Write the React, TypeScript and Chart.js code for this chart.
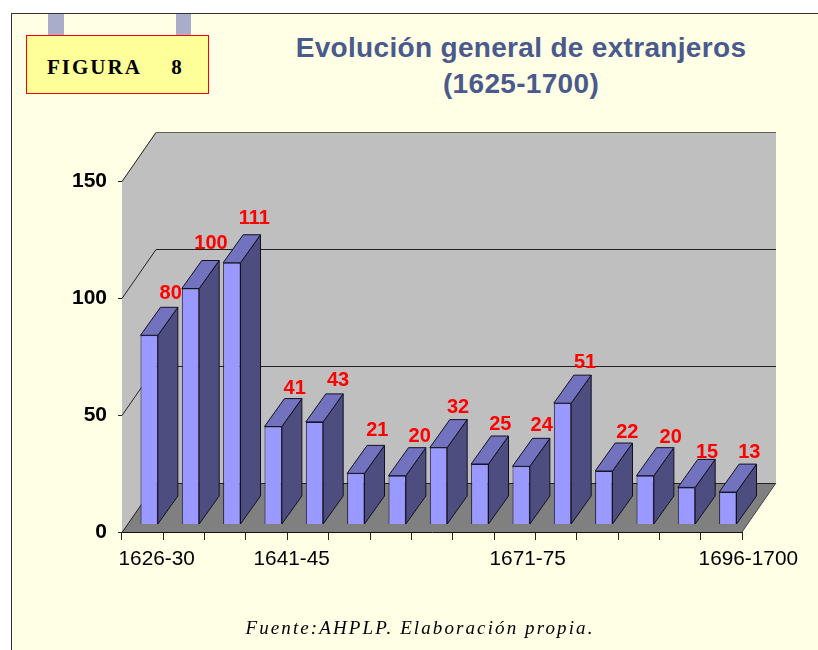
import React, { useEffect, useRef } from "react";
import { Chart, registerables } from "chart.js";

Chart.register(...registerables);

const categories = [
  "1626-30", "1631-35", "1636-40", "1641-45", "1646-50",
  "1651-55", "1656-60", "1661-65", "1666-70", "1671-75",
  "1676-80", "1681-85", "1686-90", "1691-95", "1696-1700",
];
const values = [80, 100, 111, 41, 43, 21, 20, 32, 25, 24, 51, 22, 20, 15, 13];
const shownLabels = ["1626-30", "1641-45", "1671-75", "1696-1700"];
const shownLabelShift = [14, 25, 13, 27];
const yTicks = [0, 50, 100, 150];
const labelNudgeX = [0, -1, 1, 0, 2, 0, 1, -2, -1, -1, 1, 2, 4, -1, 0];
const labelNudgeY = [-2.5, -5.5, -4.5, 1.5, -1.5, -3.5, 0.5, -0.5, -0.5, -1.5, -1.5, 0.5, 1.5, 4.5, -0.5];

const SANS = "'Liberation Sans', Arial, sans-serif";
const WALL_DX = 34;
const WALL_DY = -49;
const BAR_DX = 20;
const BAR_DY = -28;
const BAR_SHIFT_X = 6.5;
const BAR_SHIFT_Y = -9.5;

const poly = (ctx: CanvasRenderingContext2D, pts: number[][], fill: string | null, stroke: string | null) => {
  ctx.beginPath();
  pts.forEach((p, i) => (i ? ctx.lineTo(p[0], p[1]) : ctx.moveTo(p[0], p[1])));
  ctx.closePath();
  if (fill) {
    ctx.fillStyle = fill;
    ctx.fill();
  }
  if (stroke) {
    ctx.strokeStyle = stroke;
    ctx.lineWidth = 1;
    ctx.stroke();
  }
};

const line = (ctx: CanvasRenderingContext2D, x1: number, y1: number, x2: number, y2: number, color: string) => {
  ctx.beginPath();
  ctx.moveTo(x1, y1);
  ctx.lineTo(x2, y2);
  ctx.strokeStyle = color;
  ctx.lineWidth = 1;
  ctx.stroke();
};

const threeD = {
  id: "threeD",
  beforeDatasetsDraw(chart: any) {
    const { ctx, scales } = chart;
    const l = scales.x.left;
    const r = scales.x.right;
    const y0 = scales.y.getPixelForValue(0);
    const yMax = scales.y.getPixelForValue(150);
    ctx.save();
    poly(ctx, [[l + WALL_DX, yMax + WALL_DY], [r + WALL_DX, yMax + WALL_DY], [r + WALL_DX, y0 + WALL_DY], [l + WALL_DX, y0 + WALL_DY]], "#BFBFBF", null);
    poly(ctx, [[l, yMax], [l + WALL_DX, yMax + WALL_DY], [l + WALL_DX, y0 + WALL_DY], [l, y0]], "#BFBFBF", null);
    poly(ctx, [[l, y0], [r, y0], [r + WALL_DX, y0 + WALL_DY], [l + WALL_DX, y0 + WALL_DY]], "#808080", null);
    yTicks.forEach((v) => {
      const y = Math.round(scales.y.getPixelForValue(v)) + 0.5;
      const c = v === 150 ? "#5f5f5f" : "#222222";
      line(ctx, l, y, l + WALL_DX, y + WALL_DY, "#222222");
      line(ctx, l + WALL_DX, y + WALL_DY, r + WALL_DX, y + WALL_DY, c);
    });
    line(ctx, r, y0, r + WALL_DX, y0 + WALL_DY, "#444444");
    const meta = chart.getDatasetMeta(0);
    meta.data.forEach((bar: any) => {
      const half = bar.width / 2;
      const x1 = bar.x - half + BAR_SHIFT_X;
      const x2 = bar.x + half + BAR_SHIFT_X;
      const top = bar.y + BAR_SHIFT_Y;
      const bot = bar.base + BAR_SHIFT_Y;
      poly(ctx, [[x2, top], [x2 + BAR_DX, top + BAR_DY], [x2 + BAR_DX, bot + BAR_DY], [x2, bot]], "#4D4D80", "#111122");
      poly(ctx, [[x1, top], [x1 + BAR_DX, top + BAR_DY], [x2 + BAR_DX, top + BAR_DY], [x2, top]], "#7272BF", "#111122");
    });
    ctx.restore();
    ctx.save();
    ctx.translate(BAR_SHIFT_X, BAR_SHIFT_Y);
  },
  afterDatasetsDraw(chart: any) {
    const { ctx, scales } = chart;
    ctx.restore();
    ctx.save();
    ctx.font = `bold 20px ${SANS}`;
    ctx.fillStyle = "#FF0000";
    ctx.textAlign = "center";
    ctx.textBaseline = "alphabetic";
    chart.getDatasetMeta(0).data.forEach((bar: any, i: number) => {
      ctx.fillText(
        String(values[i]),
        bar.x + BAR_SHIFT_X + 21.5 + labelNudgeX[i],
        bar.y + BAR_SHIFT_Y + BAR_DY - 6 + labelNudgeY[i]
      );
    });
    ctx.font = `20.8px ${SANS}`;
    ctx.fillStyle = "#000000";
    shownLabels.forEach((label, i) => {
      const x = scales.x.getPixelForValue(categories.indexOf(label)) + shownLabelShift[i];
      ctx.fillText(label, x, 565);
    });
    ctx.restore();
  },
};

export default function App() {
  const ref = useRef<HTMLCanvasElement>(null);
  useEffect(() => {
    const chart = new Chart(ref.current as HTMLCanvasElement, {
      type: "bar",
      data: {
        labels: categories,
        datasets: [
          {
            data: values,
            base: -0.64,
            backgroundColor: "#9999FF",
            borderColor: "#15152e",
            borderWidth: 1,
            barPercentage: 0.42,
            categoryPercentage: 1,
            clip: false,
          } as any,
        ],
      },
      options: {
        animation: false,
        responsive: false,
        layout: { padding: { left: 0, top: 181, right: 76, bottom: 0 } },
        plugins: { legend: { display: false }, title: { display: false }, tooltip: { enabled: false } },
        scales: {
          x: {
            afterFit: (s: any) => {
              s.height = 118;
            },
            grid: { drawOnChartArea: false, tickLength: 8, color: "#222222", offset: true },
            border: { color: "#111111" },
            ticks: { display: false, autoSkip: false },
          },
          y: {
            min: 0,
            max: 150,
            afterFit: (s: any) => {
              s.width = 122;
            },
            afterBuildTicks: (s: any) => {
              s.ticks = yTicks.map((v) => ({ value: v }));
            },
            grid: { drawOnChartArea: false, tickLength: 4, color: "#222222" },
            border: { color: "#444444" },
            ticks: { color: "#000000", padding: 11, font: { family: SANS, size: 21, weight: "bold" } },
          },
        },
      } as any,
      plugins: [threeD as any],
    });
    return () => chart.destroy();
  }, []);

  const abs = { position: "absolute" } as const;
  return (
    <div style={{ ...abs, left: 0, top: 0, width: 818, height: 650, overflow: "hidden", background: "#fff" }}>
      <div
        style={{
          ...abs,
          left: 11,
          top: 13,
          width: 807,
          height: 637,
          boxSizing: "border-box",
          background: "#FFFFE6",
          borderTop: "1px solid #333",
          borderLeft: "1px solid #333",
        }}
      />
      <div style={{ ...abs, left: 48, top: 14, width: 16, height: 22, background: "#A9ADC9" }} />
      <div style={{ ...abs, left: 176, top: 14, width: 15, height: 22, background: "#A9ADC9" }} />
      <div
        style={{
          ...abs,
          left: 26,
          top: 35,
          width: 183,
          height: 59,
          boxSizing: "border-box",
          background: "#FFFF99",
          border: "1px solid #FF0000",
          fontFamily: "'Liberation Serif', serif",
          fontWeight: "bold",
          fontSize: 21,
          letterSpacing: 2,
          wordSpacing: 8,
          color: "#000",
          lineHeight: "62px",
          whiteSpace: "pre",
          paddingLeft: 20,
        }}
      >
        {"FIGURA  8"}
      </div>
      <div
        style={{
          ...abs,
          left: 221,
          top: 30,
          width: 600,
          textAlign: "center",
          fontFamily: SANS,
          fontWeight: "bold",
          fontSize: 28,
          letterSpacing: 0.32,
          lineHeight: "36px",
          color: "#4A5A8C",
        }}
      >
        Evolución general de extranjeros
        <br />
        (1625-1700)
      </div>
      <canvas ref={ref} width={818} height={650} style={{ ...abs, left: 0, top: 0 }} />
      <div
        style={{
          ...abs,
          left: 120,
          top: 617,
          width: 600,
          textAlign: "center",
          fontFamily: "'Liberation Serif', serif",
          fontStyle: "italic",
          fontSize: 19,
          letterSpacing: 2.1,
          color: "#000",
        }}
      >
        Fuente:AHPLP. Elaboración propia.
      </div>
    </div>
  );
}
